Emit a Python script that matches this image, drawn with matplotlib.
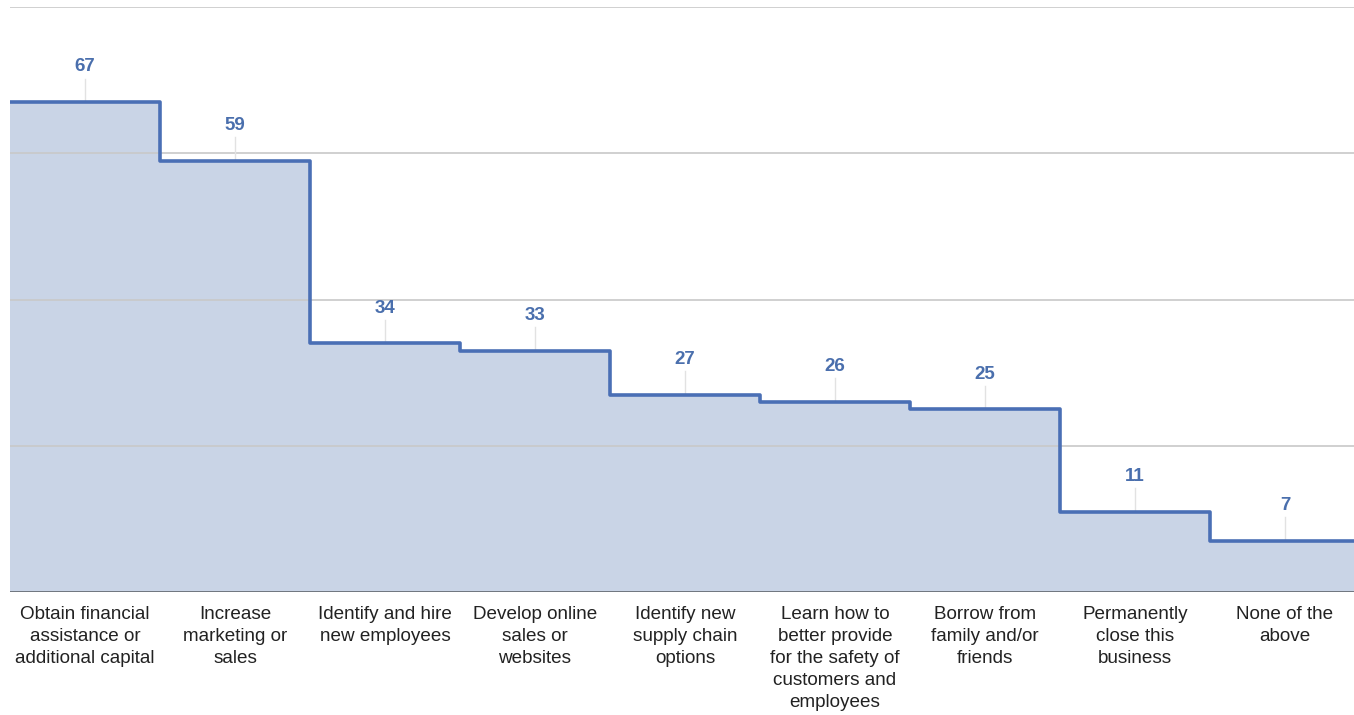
import numpy as np
import matplotlib.pyplot as plt

plt.rcParams['font.family'] = ['Liberation Sans', 'DejaVu Sans']

categories = [
    "Obtain financial\nassistance or\nadditional capital",
    "Increase\nmarketing or\nsales",
    "Identify and hire\nnew employees",
    "Develop online\nsales or\nwebsites",
    "Identify new\nsupply chain\noptions",
    "Learn how to\nbetter provide\nfor the safety of\ncustomers and\nemployees",
    "Borrow from\nfamily and/or\nfriends",
    "Permanently\nclose this\nbusiness",
    "None of the\nabove",
]
values = [67, 59, 34, 33, 27, 26, 25, 11, 7]

line_col = "#4a6fb5"
fill_col = "#c9d4e6"
text_col = "#4a6fad"

fig = plt.figure(figsize=(13.54, 7.15), dpi=100)
# plot area runs a little past the right edge of the image, like the original
ax = fig.add_axes([10 / 1354, 123 / 715, 1350 / 1354, 585 / 715])

n = len(values)
edges = np.arange(n + 1)
vals_ext = values + [values[-1]]

ax.fill_between(edges, vals_ext, 0, step="post", color=fill_col, lw=0, zorder=1)
ax.plot(edges, vals_ext, drawstyle="steps-post", color=line_col, lw=2.6,
        solid_joinstyle="round", zorder=3)

# gridlines
for g in [20, 40, 60, 80]:
    ax.axhline(g, color="#c8c8c8", lw=1.2, zorder=2)
ax.axhline(0, color="#555a60", lw=1.8, zorder=4)

# value labels with leader lines
for i, v in enumerate(values):
    xc = i + 0.5
    ax.plot([xc, xc], [v + 0.15, v + 3.2], color="#e2e2e2", lw=1, zorder=2)
    ax.text(xc, v + 4.8, str(v), ha="center", va="center", fontsize=13.5,
            fontweight="bold", color=text_col)

ax.set_xlim(0, n)
ax.set_ylim(0, 80)
ax.set_xticks(np.arange(n) + 0.5)
ax.set_xticklabels(categories, fontsize=13.6, color="#222222", linespacing=1.38)
ax.tick_params(axis="x", length=0, pad=10)
ax.set_yticks([])
for s in ax.spines.values():
    s.set_visible(False)

fig.savefig("out.png", dpi=100)
